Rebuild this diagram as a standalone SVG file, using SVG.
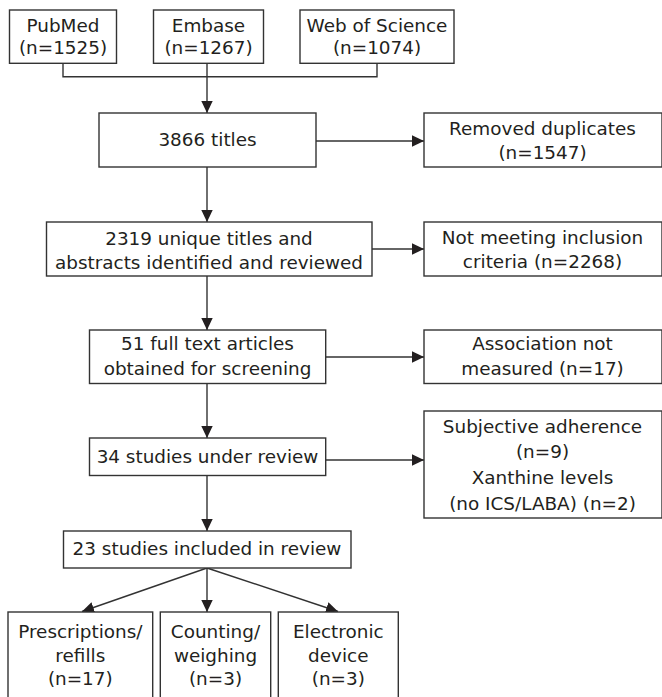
<svg xmlns="http://www.w3.org/2000/svg" width="662" height="697" viewBox="0 0 662 697">
<style>
rect.box{fill:#fff;stroke:#333;stroke-width:1.4}
text{font-family:"DejaVu Sans",sans-serif;font-size:18.4px;fill:#231f20;text-anchor:middle}
.c line,.c polyline{stroke:#333;stroke-width:1.4;fill:none}
</style>
<defs>
<marker id="ah" markerUnits="userSpaceOnUse" markerWidth="12" markerHeight="12" viewBox="0 0 12 12" refX="12" refY="6" orient="auto">
<path d="M0,0.3 L12,6 L0,11.7 z" fill="#231f20"/>
</marker>
</defs>
<rect width="662" height="697" fill="#fff"/>
<g class="c" id="connectors">
<polyline points="63,63.3 63,76.7 377,76.7 377,63.3"/>
<line x1="207" y1="63.3" x2="207" y2="113" marker-end="url(#ah)"/>
<line x1="207" y1="167" x2="207" y2="222" marker-end="url(#ah)"/>
<line x1="207" y1="276" x2="207" y2="330" marker-end="url(#ah)"/>
<line x1="207" y1="383.5" x2="207" y2="438" marker-end="url(#ah)"/>
<line x1="207" y1="475.5" x2="207" y2="531" marker-end="url(#ah)"/>
<line x1="207" y1="568" x2="207" y2="612" marker-end="url(#ah)"/>
<line x1="207" y1="568" x2="82" y2="611.5" marker-end="url(#ah)"/>
<line x1="207" y1="568" x2="338" y2="611.5" marker-end="url(#ah)"/>
<line x1="316" y1="141" x2="424" y2="141" marker-end="url(#ah)"/>
<line x1="372" y1="249" x2="424" y2="249" marker-end="url(#ah)"/>
<line x1="325.7" y1="357" x2="424" y2="357" marker-end="url(#ah)"/>
<line x1="325.7" y1="460" x2="424" y2="460" marker-end="url(#ah)"/>
</g>
<g id="pubmed"><rect class="box" x="9.5" y="10" width="107" height="53.3"/><text x="63" y="31.5">PubMed</text><text x="63" y="54">(n=1525)</text></g>
<g id="embase"><rect class="box" x="153.5" y="10" width="110" height="53.3"/><text x="208.5" y="31.5">Embase</text><text x="208.5" y="54">(n=1267)</text></g>
<g id="wos"><rect class="box" x="300" y="10" width="154" height="53.3"/><text x="377" y="31.5">Web of Science</text><text x="377" y="54">(n=1074)</text></g>
<g id="titles"><rect class="box" x="99" y="113" width="217" height="54"/><text x="207.5" y="146">3866 titles</text></g>
<g id="duplicates"><rect class="box" x="424" y="113" width="238" height="54"/><text x="542.5" y="135">Removed duplicates</text><text x="542.5" y="159">(n=1547)</text></g>
<g id="unique"><rect class="box" x="46.5" y="222" width="325.5" height="54"/><text x="209" y="245">2319 unique titles and</text><text x="209" y="269">abstracts identified and reviewed</text></g>
<g id="notmeeting"><rect class="box" x="424" y="222" width="238" height="54"/><text x="542.5" y="244">Not meeting inclusion</text><text x="542.5" y="268">criteria (n=2268)</text></g>
<g id="fulltext"><rect class="box" x="89.5" y="330" width="236.2" height="53.5"/><text x="207.5" y="350">51 full text articles</text><text x="207.5" y="375">obtained for screening</text></g>
<g id="association"><rect class="box" x="424" y="330" width="238" height="53.5"/><text x="542.5" y="350">Association not</text><text x="542.5" y="375">measured (n=17)</text></g>
<g id="underreview"><rect class="box" x="89.5" y="438" width="236.2" height="37.5"/><text x="207.5" y="463">34 studies under review</text></g>
<g id="excluded"><rect class="box" x="424" y="411" width="238" height="107"/><text x="542.5" y="433">Subjective adherence</text><text x="542.5" y="458">(n=9)</text><text x="542.5" y="484">Xanthine levels</text><text x="542.5" y="510">(no ICS/LABA) (n=2)</text></g>
<g id="included"><rect class="box" x="63.5" y="531" width="287.5" height="37"/><text x="207" y="555">23 studies included in review</text></g>
<g id="prescriptions"><rect class="box" x="8" y="612" width="144.7" height="100"/><text x="80.3" y="638">Prescriptions/</text><text x="80.3" y="662">refills</text><text x="80.3" y="685">(n=17)</text></g>
<g id="counting"><rect class="box" x="160.3" y="612" width="110.4" height="100"/><text x="215.5" y="638">Counting/</text><text x="215.5" y="662">weighing</text><text x="215.5" y="685">(n=3)</text></g>
<g id="electronic"><rect class="box" x="278.3" y="612" width="120" height="100"/><text x="338.3" y="638">Electronic</text><text x="338.3" y="662">device</text><text x="338.3" y="685">(n=3)</text></g>
</svg>
